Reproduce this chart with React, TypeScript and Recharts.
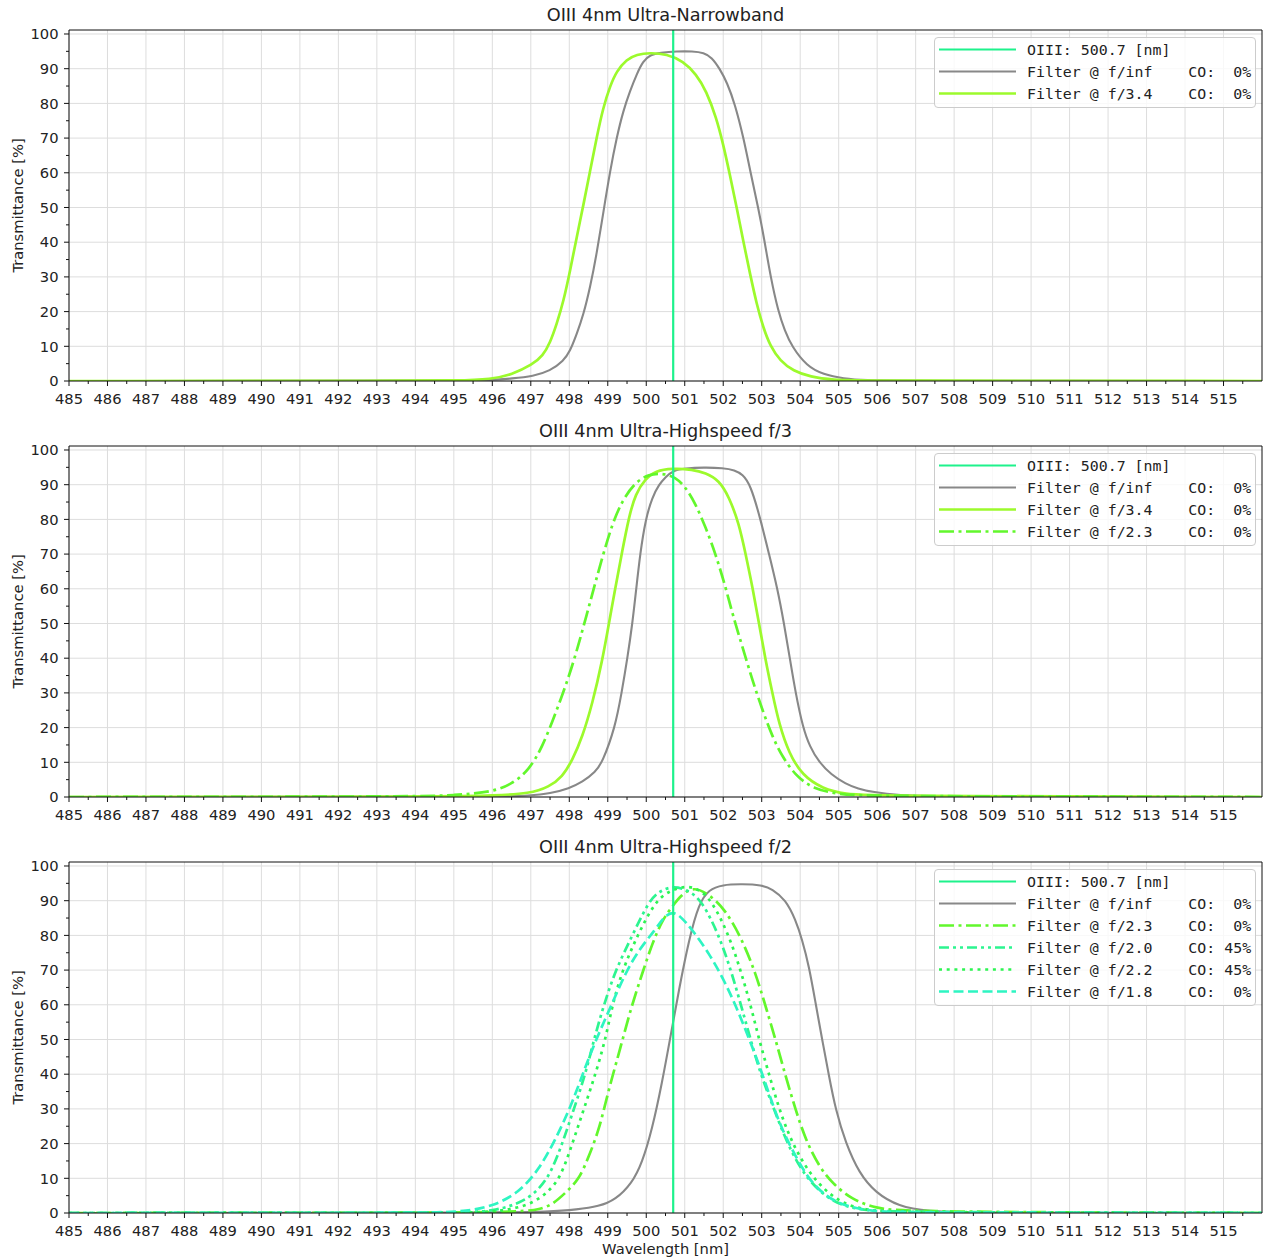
import React from 'react';
import { LineChart, Line, XAxis, YAxis, CartesianGrid, ReferenceLine, Legend } from 'recharts';

// ---------- axes ----------
const xMin = 485;
const xMax = 516;
const yMax = 101.15;
const oiiiWavelength = 500.7;
const xMajor = Array.from({ length: 31 }, (_, i) => 485 + i);
const xTicks = Array.from({ length: 62 }, (_, i) => 485 + i * 0.5);
const yMajor = Array.from({ length: 11 }, (_, i) => i * 10);
const yTicks = Array.from({ length: 21 }, (_, i) => i * 5);

// ---------- panel 1: OIII 4nm Ultra-Narrowband ----------
const wlInf1 = [485, 495, 496, 496.5, 497.07, 497.5, 497.85, 498.02, 498.19, 498.37, 498.54, 498.71, 498.89, 499.06, 499.23, 499.4, 499.58, 499.75, 499.92, 500.1, 500.36, 500.8, 501.2, 501.5, 501.7, 501.91, 502.1, 502.3, 502.53, 502.71, 502.91, 503.08, 503.23, 503.43, 503.6, 503.78, 504.17, 504.6, 505.12, 505.72, 506.5, 516];
const tInf1 = [0, 0.1, 0.3, 0.7, 1.4, 2.9, 5.8, 8.6, 13.4, 19.2, 26.9, 36.5, 49, 60.5, 70.1, 77.8, 83.6, 88.4, 92.2, 94, 94.6, 95, 95, 94.6, 93.3, 90, 86, 80, 70, 60, 50, 40, 30, 20, 14.5, 10, 4.3, 1.9, 0.7, 0.2, 0.05, 0];
const wlF34a = [485, 494, 495, 496, 496.5, 497.05, 497.31, 497.5, 497.67, 497.85, 498.02, 498.19, 498.37, 498.54, 498.71, 498.88, 499.06, 499.23, 499.49, 499.75, 500.1, 500.53, 500.96, 501.3, 501.56, 501.82, 502.0, 502.17, 502.35, 502.52, 502.7, 502.87, 503.04, 503.22, 503.48, 503.82, 504.26, 504.86, 505.6, 516];
const tF34a = [0, 0.03, 0.1, 0.5, 1.8, 4.8, 7.2, 11, 16.3, 23, 31.7, 41.3, 50.9, 60.5, 70.1, 78.8, 85, 89.3, 92.7, 94.1, 94.6, 94.2, 92.2, 88.4, 83.6, 75.9, 68.2, 59.6, 50, 40.3, 30.7, 22.1, 15.4, 10.1, 5.8, 2.9, 1.2, 0.3, 0.05, 0];

// ---------- panel 2: OIII 4nm Ultra-Highspeed f/3 ----------
const wlInf2 = [485, 496, 497, 497.5, 498, 498.34, 498.68, 498.86, 499.19, 499.36, 499.51, 499.64, 499.74, 499.84, 499.98, 500.16, 500.33, 500.5, 500.7, 501.0, 501.5, 502.0, 502.3, 502.5, 502.71, 502.97, 503.19, 503.41, 503.58, 503.73, 503.88, 504.07, 504.25, 504.49, 504.8, 505.18, 505.5, 505.88, 506.57, 507.5, 516];
const tInf2 = [0, 0.05, 0.4, 1, 2.5, 4.3, 7.2, 10, 20, 30, 40, 50, 60, 70, 80, 86.5, 90, 92.2, 94.1, 94.7, 95, 94.8, 94.2, 93, 90, 80, 70, 60, 50, 40, 30, 20, 14.5, 10, 6.5, 3.8, 2.4, 1.4, 0.5, 0.1, 0];
const wlF34b = [485, 495, 496, 496.99, 497.47, 497.82, 498.08, 498.34, 498.6, 498.86, 499.03, 499.2, 499.38, 499.55, 499.72, 499.98, 500.24, 500.68, 501.2, 501.54, 501.89, 502.15, 502.41, 502.58, 502.76, 502.93, 503.1, 503.28, 503.45, 503.71, 504.06, 504.58, 505.18, 505.88, 516];
const tF34b = [0, 0.1, 0.4, 1.0, 2.9, 5.8, 10.6, 17.3, 26.9, 39.4, 50, 60.5, 71.1, 80.7, 87.4, 91.7, 94, 94.7, 94.4, 93.4, 91.3, 86.5, 78.8, 70.1, 60.5, 50, 39.4, 29.8, 21.1, 12.5, 6.2, 2.4, 0.8, 0.3, 0];
const wlF23b = [485, 494, 495, 496, 496.52, 496.95, 497.3, 497.64, 497.99, 498.25, 498.6, 498.86, 499.12, 499.38, 499.72, 500.07, 500.42, 500.76, 501.02, 501.28, 501.54, 501.8, 502.06, 502.24, 502.5, 502.76, 503.02, 503.28, 503.54, 503.88, 504.32, 505.0, 505.7, 516];
const tF23b = [0, 0.1, 0.5, 1.4, 3.8, 7.7, 14.4, 24, 34.6, 44.2, 58.6, 69.2, 78.8, 85.5, 90.8, 93, 93.3, 92.2, 89.3, 84.5, 77.8, 70.1, 60.5, 52.8, 43.2, 33.6, 25, 17.3, 11.5, 6.2, 2.4, 0.8, 0.2, 0];

// ---------- panel 3: OIII 4nm Ultra-Highspeed f/2 ----------
const wlInf3 = [485, 496, 497.5, 498.2, 498.77, 499.2, 499.63, 499.89, 500.15, 500.41, 500.63, 500.85, 501.11, 501.37, 501.63, 501.97, 502.5, 503.0, 503.27, 503.62, 503.88, 504.05, 504.23, 504.4, 504.57, 504.75, 504.92, 505.18, 505.53, 505.96, 506.56, 507.3, 508.5, 516];
const tInf3 = [0, 0.05, 0.4, 1.0, 1.9, 3.8, 8.6, 14.4, 24, 37.5, 50.9, 64.4, 78.8, 89.3, 93.2, 94.6, 94.8, 94.5, 93.4, 90.3, 84.5, 78.8, 71.1, 60.5, 50, 39.4, 29.8, 20.2, 11.5, 5.8, 1.9, 0.5, 0.05, 0];
const wlF23c = [485, 495, 496.2, 496.86, 497.21, 497.56, 497.9, 498.25, 498.51, 498.77, 498.94, 499.12, 499.33, 499.59, 499.9, 500.16, 500.42, 500.68, 500.9, 501.2, 501.6, 502.06, 502.49, 502.84, 503.1, 503.36, 503.62, 503.88, 504.14, 504.49, 504.83, 505.35, 505.96, 506.7, 516];
const tF23c = [0, 0.05, 0.3, 0.6, 1.0, 2.4, 5.8, 9.6, 16.3, 24, 31.7, 39.4, 47.6, 58.6, 69.2, 77.8, 84.5, 88.4, 91.5, 94, 92.2, 87.4, 78.8, 69.2, 59.6, 50, 39.4, 29.8, 21.1, 13.4, 8.6, 3.8, 1.4, 0.3, 0];
const wlF20c = [485, 494.5, 495.5, 496, 496.5, 497, 497.47, 497.82, 498.12, 498.42, 498.64, 498.9, 499.2, 499.64, 500.07, 500.35, 500.7, 501.1, 501.45, 501.89, 502.2, 502.46, 502.71, 502.97, 503.32, 503.66, 504.14, 504.83, 505.5, 506.3, 516];
const tF20c = [0, 0.05, 0.2, 0.7, 2, 4.5, 10, 20, 30, 40, 50, 60, 70, 80, 90, 92.8, 94.3, 93, 90, 80, 70, 60, 50, 40, 30, 20, 10, 3, 1, 0.2, 0];
const wlF22c = [485, 494.5, 495.5, 496, 496.5, 497, 497.4, 497.77, 498.08, 498.38, 498.68, 498.94, 499.12, 499.38, 499.77, 500.24, 500.6, 501.0, 501.35, 501.71, 502.15, 502.45, 502.71, 502.93, 503.19, 503.45, 503.79, 504.31, 505.0, 505.7, 506.5, 516];
const tF22c = [0, 0.03, 0.15, 0.4, 1.1, 2.6, 5.5, 10, 20, 30, 40, 50, 60, 70, 80, 90, 92.8, 94.3, 93.5, 90, 80, 70, 60, 50, 40, 30, 20, 10, 3, 0.8, 0.15, 0];
const wlF18c = [485, 494, 494.7, 495.3, 496, 496.69, 497.21, 497.64, 498.08, 498.42, 498.77, 499.12, 499.46, 499.81, 500.24, 500.45, 500.68, 500.9, 501.19, 501.63, 502.06, 502.41, 502.75, 503.01, 503.27, 503.53, 503.88, 504.23, 504.66, 505.18, 505.87, 506.6, 516];
const tF18c = [0, 0.05, 0.2, 0.5, 1.9, 5.8, 12.5, 21.1, 31.7, 42.3, 51.9, 60.5, 69.2, 75.9, 81.7, 85.2, 87, 85.4, 81.7, 74.9, 66.3, 57.6, 48, 40.3, 31.7, 24, 16.3, 9.6, 4.8, 1.9, 0.5, 0.1, 0];

// ---------- styles ----------
const C_OIII = '#1ef28c';
const C_INF = '#888888';
const C_F34 = '#9cfa2c';
const C_F23 = '#62f72c';
const C_F20 = '#2cf590';
const C_F22 = '#2cf552';
const C_F18 = '#2ef5c2';
const DASH = '10 4.5';
const DASHDOT = '15 4.5 3 4.5';
const DOT = '3 4.7';
const DASHDOTDOT = '10 4 3 4 3 4';
const AXIS_COLOR = '#111111';
const TEXT_COLOR = '#222222';
const FONT = 'DejaVu Sans, sans-serif';
const MONO = 'DejaVu Sans Mono, monospace';

const pts = (wl: number[], t: number[]) => wl.map((x, i) => ({ x, y: t[i] }));

type Series = { label: string; color: string; width: number; dash?: string; wl: number[]; t: number[] };

const oiiiItem = { label: 'OIII: 500.7 [nm]', color: C_OIII, width: 2.2, dash: undefined as string | undefined };

const panel1: Series[] = [
  { label: 'Filter @ f/inf    CO:  0%', color: C_INF, width: 2.1, wl: wlInf1, t: tInf1 },
  { label: 'Filter @ f/3.4    CO:  0%', color: C_F34, width: 2.7, wl: wlF34a, t: tF34a },
];
const panel2: Series[] = [
  { label: 'Filter @ f/inf    CO:  0%', color: C_INF, width: 2.1, wl: wlInf2, t: tInf2 },
  { label: 'Filter @ f/3.4    CO:  0%', color: C_F34, width: 2.7, wl: wlF34b, t: tF34b },
  { label: 'Filter @ f/2.3    CO:  0%', color: C_F23, width: 2.7, dash: DASHDOT, wl: wlF23b, t: tF23b },
];
const panel3: Series[] = [
  { label: 'Filter @ f/inf    CO:  0%', color: C_INF, width: 2.1, wl: wlInf3, t: tInf3 },
  { label: 'Filter @ f/2.3    CO:  0%', color: C_F23, width: 2.7, dash: DASHDOT, wl: wlF23c, t: tF23c },
  { label: 'Filter @ f/2.0    CO: 45%', color: C_F20, width: 2.7, dash: DASHDOTDOT, wl: wlF20c, t: tF20c },
  { label: 'Filter @ f/2.2    CO: 45%', color: C_F22, width: 2.7, dash: DOT, wl: wlF22c, t: tF22c },
  { label: 'Filter @ f/1.8    CO:  0%', color: C_F18, width: 2.7, dash: DASH, wl: wlF18c, t: tF18c },
];

const XTick = (props: any) => {
  const { x, y, payload } = props;
  const v = payload.value as number;
  const major = Math.abs(v - Math.round(v)) < 1e-6;
  return (
    <g>
      <line x1={x} x2={x} y1={y} y2={y + (major ? 5 : 3)} stroke={AXIS_COLOR} strokeWidth={1} />
      {major && (
        <text x={x} y={y + 23} textAnchor="middle" fontFamily={FONT} fontSize={14.7} fill={TEXT_COLOR}>
          {v}
        </text>
      )}
    </g>
  );
};

const YTick = (props: any) => {
  const { x, y, payload } = props;
  const v = payload.value as number;
  const major = v % 10 === 0;
  return (
    <g>
      <line x1={x} x2={x - (major ? 5 : 3)} y1={y} y2={y} stroke={AXIS_COLOR} strokeWidth={1} />
      {major && (
        <text x={x - 10.5} y={y} dy="0.36em" textAnchor="end" fontFamily={FONT} fontSize={14.7} fill={TEXT_COLOR}>
          {v}
        </text>
      )}
    </g>
  );
};

const gridV = (args: any) => {
  const { xAxis, offset } = args;
  return xMajor.map((v) =>
    xAxis && typeof xAxis.scale === 'function'
      ? xAxis.scale(v)
      : offset.left + ((v - xMin) / (xMax - xMin)) * offset.width
  );
};
const gridH = (args: any) => {
  const { yAxis, offset } = args;
  return yMajor.map((v) =>
    yAxis && typeof yAxis.scale === 'function'
      ? yAxis.scale(v)
      : offset.top + offset.height - (v / yMax) * offset.height
  );
};

const YLabel = (props: any) => {
  const vb = props.viewBox || { x: 0, y: 30, width: 69, height: 351 };
  const cx = vb.x + 17;
  const cy = vb.y + vb.height / 2;
  return (
    <text x={cx} y={cy} transform={`rotate(-90, ${cx}, ${cy})`} textAnchor="middle" dominantBaseline="central" fontFamily={FONT} fontSize={14.7} fill={TEXT_COLOR}>
      Transmittance [%]
    </text>
  );
};

const XLabel = (props: any) => {
  const vb = props.viewBox || { x: 69, y: 381, width: 1193, height: 47 };
  return (
    <text x={vb.x + vb.width / 2} y={vb.y + 41} textAnchor="middle" fontFamily={FONT} fontSize={14.7} fill={TEXT_COLOR}>
      Wavelength [nm]
    </text>
  );
};

const LegendBox = ({ items }: { items: { label: string; color: string; width: number; dash?: string }[] }) => {
  const h = 12.5 + (items.length - 1) * 22 + 14.5;
  return (
    <div
      style={{
        width: 322,
        height: h,
        boxSizing: 'border-box',
        border: '1px solid #cccccc',
        borderRadius: 4,
        background: 'rgba(255,255,255,0.8)',
      }}
    >
      <svg width={320} height={h - 2} style={{ display: 'block' }}>
        {items.map((it, i) => {
          const cy = 11.5 + i * 22;
          return (
            <g key={i}>
              <line x1={4} x2={81} y1={cy} y2={cy} stroke={it.color} strokeWidth={it.width} strokeDasharray={it.dash} />
              <text x={92} y={cy} dominantBaseline="central" fontFamily={MONO} fontSize={14.9} fill={TEXT_COLOR} style={{ whiteSpace: 'pre' }}>
                {it.label}
              </text>
            </g>
          );
        })}
      </svg>
    </div>
  );
};

const Panel = ({ title, series, showXLabel }: { title: string; series: Series[]; showXLabel?: boolean }) => {
  const h = showXLabel ? 428 : 416;
  const xAxisH = h - 381;
  const items = [oiiiItem, ...series.map((s) => ({ label: s.label, color: s.color, width: s.width, dash: s.dash }))];
  return (
    <div style={{ position: 'relative', width: 1264, height: h }}>
      <LineChart width={1264} height={h} margin={{ top: 30, right: 2, bottom: 0, left: 0 }}>
        <CartesianGrid stroke="#dddddd" strokeWidth={1} verticalCoordinatesGenerator={gridV} horizontalCoordinatesGenerator={gridH} />
        <XAxis
          type="number"
          dataKey="x"
          domain={[xMin, xMax]}
          allowDataOverflow
          ticks={xTicks}
          interval={0}
          tick={XTick}
          tickLine={false}
          tickSize={0}
          tickMargin={0}
          height={xAxisH}
          axisLine={{ stroke: AXIS_COLOR, strokeWidth: 1 }}
          label={showXLabel ? XLabel : undefined}
        />
        <YAxis
          type="number"
          domain={[0, yMax]}
          allowDataOverflow
          ticks={yTicks}
          interval={0}
          tick={YTick}
          tickLine={false}
          tickSize={0}
          tickMargin={0}
          width={69}
          axisLine={{ stroke: AXIS_COLOR, strokeWidth: 1 }}
          label={YLabel}
        />
        {series.map((s, i) => (
          <Line
            key={i}
            data={pts(s.wl, s.t)}
            dataKey="y"
            type="basis"
            stroke={s.color}
            strokeWidth={s.width}
            strokeDasharray={s.dash}
            dot={false}
            activeDot={false}
            isAnimationActive={false}
          />
        ))}
        <ReferenceLine x={oiiiWavelength} stroke={C_OIII} strokeWidth={2.2} />
        <ReferenceLine y={yMax} stroke={AXIS_COLOR} strokeWidth={1} />
        <ReferenceLine x={xMax} stroke={AXIS_COLOR} strokeWidth={1} />
        <Legend
          layout="vertical"
          align="center"
          verticalAlign="middle"
          wrapperStyle={{ left: 934, top: 37, width: 322, height: 'auto' }}
          content={() => <LegendBox items={items} />}
        />
      </LineChart>
      <svg width={1264} height={30} style={{ position: 'absolute', left: 0, top: 0 }}>
        <text x={665.5} y={21} textAnchor="middle" fontFamily={FONT} fontSize={17.7} fill={TEXT_COLOR}>
          {title}
        </text>
      </svg>
    </div>
  );
};

export default function App() {
  return (
    <div style={{ position: 'absolute', left: 0, top: 0, width: 1264, height: 1260, background: '#ffffff' }}>
      <Panel title="OIII 4nm Ultra-Narrowband" series={panel1} />
      <Panel title="OIII 4nm Ultra-Highspeed f/3" series={panel2} />
      <Panel title="OIII 4nm Ultra-Highspeed f/2" series={panel3} showXLabel />
    </div>
  );
}
